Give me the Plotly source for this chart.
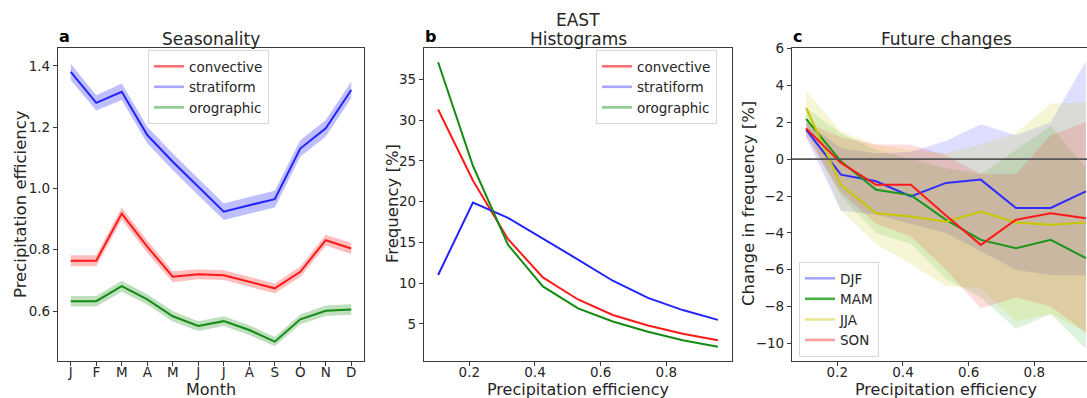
import plotly.graph_objects as go

# ---------------- data ----------------
months = ["J", "F", "M", "A", "M", "J", "J", "A", "S", "O", "N", "D"]
season_convective = [0.764, 0.764, 0.918, 0.810, 0.712, 0.720, 0.717, 0.695, 0.674, 0.728, 0.831, 0.804]
season_stratiform = [1.380, 1.279, 1.315, 1.174, 1.087, 1.005, 0.924, 0.945, 0.965, 1.130, 1.196, 1.321]
season_orographic = [0.632, 0.632, 0.681, 0.638, 0.583, 0.551, 0.567, 0.538, 0.500, 0.573, 0.601, 0.605]
spread_convective = [0.018, 0.018, 0.020, 0.020, 0.018, 0.016, 0.016, 0.016, 0.016, 0.017, 0.018, 0.018]
spread_stratiform = [0.027, 0.025, 0.027, 0.027, 0.027, 0.027, 0.027, 0.027, 0.027, 0.027, 0.027, 0.027]
spread_orographic = [0.017, 0.017, 0.018, 0.017, 0.017, 0.016, 0.016, 0.016, 0.015, 0.016, 0.017, 0.017]

pe_bins = [0.105, 0.211, 0.318, 0.424, 0.531, 0.637, 0.744, 0.850, 0.957]
hist_convective = [31.3, 22.6, 15.4, 10.7, 8.0, 6.1, 4.8, 3.8, 3.0]
hist_stratiform = [11.0, 19.9, 18.0, 15.5, 12.9, 10.3, 8.2, 6.7, 5.5]
hist_orographic = [37.1, 24.4, 14.7, 9.6, 6.9, 5.3, 4.05, 3.0, 2.2]

chg_DJF = [1.60, -0.84, -1.20, -2.02, -1.29, -1.11, -2.65, -2.65, -1.75]
chg_MAM = [2.19, -0.12, -1.66, -1.95, -3.29, -4.38, -4.83, -4.38, -5.37]
chg_JJA = [2.79, -1.39, -2.93, -3.11, -3.40, -2.84, -3.44, -3.56, -3.44]
chg_SON = [1.66, -0.20, -1.39, -1.39, -3.05, -4.65, -3.29, -2.93, -3.20]
up_DJF = [2.0, 0.6, 0.3, 0.4, 1.0, 1.9, 1.3, 2.0, 5.3]
lo_DJF = [1.2, -2.8, -3.0, -3.5, -4.0, -5.0, -6.0, -6.3, -6.3]
up_MAM = [2.8, 1.4, 0.5, 0.0, -0.5, -0.8, 0.5, 1.8, -0.5]
lo_MAM = [1.5, -2.0, -4.0, -4.6, -6.5, -7.5, -9.2, -8.4, -10.3]
up_JJA = [3.7, 1.5, 0.8, 0.5, 0.3, 0.8, 1.4, 3.0, 3.1]
lo_JJA = [2.0, -2.8, -4.6, -5.7, -6.9, -7.0, -8.8, -8.4, -9.4]
up_SON = [2.0, 1.2, 0.8, 0.8, 0.2, -0.8, -0.8, 1.3, 2.0]
lo_SON = [1.2, -1.8, -3.5, -4.2, -6.0, -8.1, -7.5, -8.0, -9.4]

# ---------------- figure ----------------
W, H = 1087, 398
FONT = "DejaVu Sans"
TXT = "#262626"
AX = "#3a3a3a"

def px(xp):
    return xp / W

def py(yp):
    return 1 - yp / H

fig = go.Figure()
midx = list(range(len(months)))

def band(x, lo, hi, color, xa, ya):
    fig.add_trace(go.Scatter(
        x=list(x) + list(x)[::-1], y=list(hi) + list(lo)[::-1],
        fill="toself", fillcolor=color, line=dict(width=0),
        mode="lines", hoverinfo="skip", showlegend=False, xaxis=xa, yaxis=ya))

def line(x, y, color, xa, ya, w=2.0):
    fig.add_trace(go.Scatter(x=x, y=y, mode="lines", line=dict(color=color, width=w),
                             showlegend=False, xaxis=xa, yaxis=ya))

def legend_entry(name, color, legend, w=2.6):
    fig.add_trace(go.Scatter(x=[None], y=[None], mode="lines", name=name,
                             line=dict(color=color, width=w), legend=legend,
                             xaxis="x", yaxis="y"))

# panel a
for m, s, lc, fc in [
    (season_convective, spread_convective, "rgb(255,25,25)", "rgba(255,0,0,0.25)"),
    (season_stratiform, spread_stratiform, "rgb(35,35,255)", "rgba(0,0,255,0.25)"),
    (season_orographic, spread_orographic, "rgb(20,140,20)", "rgba(0,128,0,0.25)"),
]:
    band(midx, [a - b for a, b in zip(m, s)], [a + b for a, b in zip(m, s)], fc, "x", "y")
    line(midx, m, lc, "x", "y")

# panel b
line(pe_bins, hist_convective, "rgb(255,25,25)", "x2", "y2")
line(pe_bins, hist_stratiform, "rgb(35,35,255)", "x2", "y2")
line(pe_bins, hist_orographic, "rgb(20,140,20)", "x2", "y2")

# panel c
for lo, hi, fc in [
    (lo_DJF, up_DJF, "rgba(0,0,255,0.13)"),
    (lo_MAM, up_MAM, "rgba(0,160,0,0.13)"),
    (lo_JJA, up_JJA, "rgba(200,200,0,0.16)"),
    (lo_SON, up_SON, "rgba(255,0,0,0.13)"),
]:
    band(pe_bins, lo, hi, fc, "x3", "y3")
line(pe_bins, chg_DJF, "rgb(45,45,255)", "x3", "y3")
line(pe_bins, chg_MAM, "rgb(25,150,25)", "x3", "y3")
line(pe_bins, chg_JJA, "rgb(200,200,0)", "x3", "y3")
line(pe_bins, chg_SON, "rgb(255,25,25)", "x3", "y3")

# legends
legend_entry("convective", "rgb(255,110,110)", "legend")
legend_entry("stratiform", "rgb(165,165,255)", "legend")
legend_entry("orographic", "rgb(140,205,140)", "legend")
legend_entry("convective", "rgb(255,110,110)", "legend2")
legend_entry("stratiform", "rgb(165,165,255)", "legend2")
legend_entry("orographic", "rgb(140,205,140)", "legend2")
legend_entry("DJF", "rgb(165,165,255)", "legend3")
legend_entry("MAM", "rgb(70,175,70)", "legend3")
legend_entry("JJA", "rgb(230,230,150)", "legend3")
legend_entry("SON", "rgb(255,160,160)", "legend3")

ydom = [py(361), py(48)]
common_ax = dict(showline=True, linecolor=AX, linewidth=1.3, ticks="outside", ticklen=4,
                 tickwidth=1, tickcolor=AX, showgrid=False, zeroline=False, automargin=False,
                 tickfont=dict(family=FONT, size=13.5, color=TXT))
xtick = dict(ticklabelstandoff=-5)
title_font = dict(family=FONT, size=16.5, color=TXT)

leg_common = dict(bgcolor="rgba(255,255,255,0.85)", bordercolor="#d8d8d8", borderwidth=1,
                  font=dict(family=FONT, size=13.5, color=TXT), xanchor="left", yanchor="top",
                  tracegroupgap=0, itemwidth=30)

fig.update_layout(
    width=W, height=H, autosize=False,
    margin=dict(l=0, r=0, t=0, b=0, pad=0),
    paper_bgcolor="white", plot_bgcolor="white",
    showlegend=True,
    xaxis=dict(domain=[px(58), px(364)], range=[-0.5, 11.5], tickvals=midx, ticktext=months,
               mirror=True, **xtick, **common_ax),
    yaxis=dict(domain=ydom, range=[0.437, 1.458], tickvals=[0.6, 0.8, 1.0, 1.2, 1.4],
               tickformat=".1f", mirror=True, **common_ax),
    xaxis2=dict(domain=[px(424), px(732)], range=[0.062, 1.0], tickvals=[0.2, 0.4, 0.6, 0.8],
                tickformat=".1f", mirror=True, anchor="y2", **xtick, **common_ax),
    yaxis2=dict(domain=ydom, range=[0.455, 38.845], tickvals=[5, 10, 15, 20, 25, 30, 35],
                mirror=True, anchor="x2", **common_ax),
    xaxis3=dict(domain=[px(792), 1.0], range=[0.062, 0.062 + 0.938 * 295 / 308],
                tickvals=[0.2, 0.4, 0.6, 0.8], tickformat=".1f", mirror=True, anchor="y3",
                **xtick, **common_ax),
    yaxis3=dict(domain=ydom, range=[-10.95, 6.03], tickvals=[-10, -8, -6, -4, -2, 0, 2, 4, 6],
                mirror=False, anchor="x3", **common_ax),
    legend=dict(x=px(148), y=py(50), **leg_common),
    legend2=dict(x=px(596), y=py(50), **leg_common),
    legend3=dict(x=px(799), y=py(262), **leg_common),
)

fig.add_shape(type="line", xref="x3 domain", yref="y3", x0=0, x1=1, y0=0, y1=0,
              line=dict(color="#555555", width=1.6))

def ann(text, x, y, size=17, bold=False, xanchor="center", yanchor="middle", angle=0, pad=1):
    fig.add_annotation(text=("<b>%s</b>" % text) if bold else text, x=x, y=y,
                       xref="paper", yref="paper", showarrow=False, textangle=angle,
                       xanchor=xanchor, yanchor=yanchor, borderpad=pad,
                       font=dict(family=FONT, size=size, color=TXT if not bold else "black"))

# panel titles and labels
ann("Seasonality", px(211), py(39))
ann("EAST", px(578), py(20))
ann("Histograms", px(578), py(39))
ann("Future changes", px(946), py(39))
ann("a", px(57), py(48), size=16, bold=True, xanchor="left", yanchor="bottom")
ann("b", px(423), py(48), size=16, bold=True, xanchor="left", yanchor="bottom")
ann("c", px(791), py(48), size=16, bold=True, xanchor="left", yanchor="bottom")
# axis titles
ann("Month", px(211), py(389), size=16, pad=0)
ann("Precipitation efficiency", px(578), py(389), size=16, pad=0)
ann("Precipitation efficiency", px(946), py(389), size=16, pad=0)
ann("Precipitation efficiency", px(20), py(204), size=16.5, angle=-90)
ann("Frequency [%]", px(392), py(204), size=16.5, angle=-90)
ann("Change in frequency [%]", px(748), py(204), size=16.5, angle=-90)

fig.write_html(
    "out.html",
    config={"displayModeBar": False},
    post_script=(
        "document.documentElement.style.margin='0';"
        "document.body.style.margin='0';document.body.style.padding='0';"
        "document.body.style.overflow='hidden';"
        "var gd=document.getElementById('{plot_id}');"
        "gd.style.position='absolute';gd.style.left='0px';gd.style.top='0px';"
    ),
)
